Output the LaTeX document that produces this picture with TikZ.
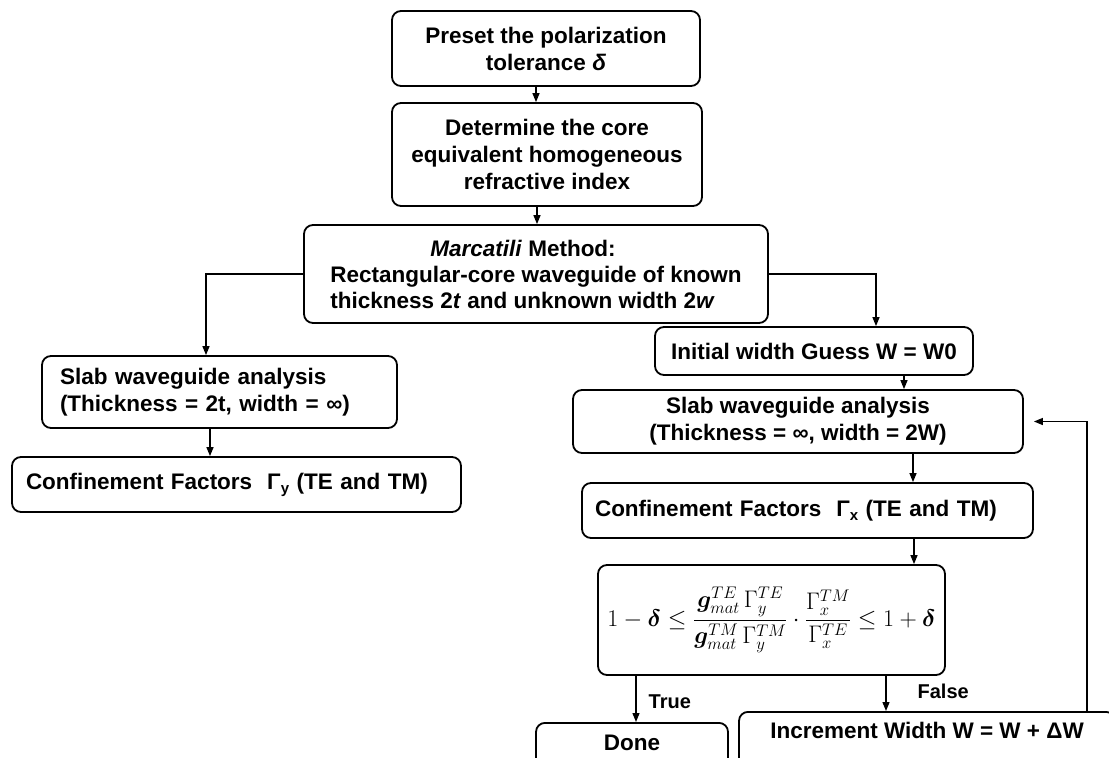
\documentclass[tikz,border=0pt]{standalone}
\usepackage{amsmath}
\usepackage{bm}
\usepackage{fix-cm}
\usepackage{fontspec}
\setmainfont{Liberation Sans}
\usetikzlibrary{arrows.meta,calc}
\begin{document}
\begin{tikzpicture}[x=1pt,y=-1pt,
  box/.style={draw, line width=1.8pt, rounded corners=9pt, inner sep=0pt, align=center,
    font=\fontsize{22.5}{27}\selectfont\bfseries},
  arr/.style={line width=1.3pt, -{Triangle[length=9pt,width=7pt]}},
  lbl/.style={font=\fontsize{20}{24}\selectfont\bfseries, inner sep=0pt, anchor=west}]
\useasboundingbox (0,0) rectangle (1109,758);
\fill[white] (0,0) rectangle (1109,758);

% boxes
\node[box, minimum width=308pt, minimum height=75pt] (b1) at (546,48.5)
  {Preset the polarization\\tolerance \textit{δ}};
\node[box, minimum width=310pt, minimum height=103pt] (b2) at (547,154.5)
  {Determine the core\\equivalent homogeneous\\refractive index};
\node[box, minimum width=464pt, minimum height=98pt, align=left, font=\fontsize{22.5}{26}\selectfont\bfseries] (b3) at (536,274)
  {\hspace*{100pt}\textit{Marcatili} Method:\\Rectangular-core waveguide of known\\thickness 2\textit{t} and unknown width 2\textit{w}};
\node[box, minimum width=318pt, minimum height=48pt] (gs) at (814,351)
  {Initial width Guess W = W0};
\node[box, minimum width=355pt, minimum height=72pt, align=left, text width=319pt, inner xsep=18pt] (sl) at (219.5,392)
  {Slab waveguide analysis\\(Thickness = 2t, width = ∞)};
\node[box, minimum width=449pt, minimum height=55pt, align=left, text width=421pt, inner xsep=14pt] (cl) at (236.5,484.5)
  {Confinement Factors\ \ Γ\raisebox{-0.35ex}{\fontsize{15}{15}\selectfont y} (TE and TM)};
\node[box, minimum width=450pt, minimum height=63pt] (sr) at (798,421.5)
  {Slab waveguide analysis\\(Thickness = ∞, width = 2W)};
\node[box, minimum width=451pt, minimum height=55pt, align=left, text width=425pt, inner xsep=13pt] (cr) at (807.5,510.5)
  {Confinement Factors\ \ Γ\raisebox{-0.35ex}{\fontsize{15}{15}\selectfont x} (TE and TM)};
\node[box, minimum width=347pt, minimum height=110pt, font=\fontsize{24}{28}\selectfont] (fm) at (771.5,620)
  {$\displaystyle 1-\bm{\delta}\le\frac{\bm{g}^{\mathnormal{TE}}_{\mathnormal{mat}}\,\Gamma^{\mathnormal{TE}}_{y}}{\bm{g}^{\mathnormal{TM}}_{\mathnormal{mat}}\,\Gamma^{\mathnormal{TM}}_{y}}\cdot\frac{\Gamma^{\mathnormal{TM}}_{x}}{\Gamma^{\mathnormal{TE}}_{x}}\le 1+\bm{\delta}$};
\node[box, anchor=north, minimum width=192pt, text height=17pt, text depth=30pt, inner ysep=11pt] (dn) at (632,722)
  {Done};
\node[box, anchor=north, minimum width=376pt, text height=17pt, text depth=30pt, inner ysep=10pt] (inc) at (927,711)
  {Increment Width W = W + ΔW};

% vertical guide coordinates
\coordinate (x1) at (536,0);
\coordinate (x2) at (537,0);
\coordinate (xl) at (206,0);
\coordinate (xr) at (876,0);
\coordinate (x3) at (904,0);
\coordinate (x4) at (913,0);
\coordinate (x5) at (914,0);
\coordinate (xt) at (636,0);
\coordinate (xf) at (886,0);
\coordinate (xb) at (1087,0);
\coordinate (xd) at (210,0);

% connectors
\draw[arr] (x1 |- b1.south) -- (x1 |- b2.north);
\draw[arr] (x2 |- b2.south) -- (x2 |- b3.north);
\draw[arr] (b3.west) -| (xl |- sl.north);
\draw[arr] (b3.east) -| (xr |- gs.north);
\draw[arr] (xd |- sl.south) -- (xd |- cl.north);
\draw[arr] (x3 |- gs.south) -- (x3 |- sr.north);
\draw[arr] (x4 |- sr.south) -- (x4 |- cr.north);
\draw[arr] (x5 |- cr.south) -- (x5 |- fm.north);
\draw[arr] (xt |- fm.south) -- node[lbl, pos=0.55, xshift=12pt] (tl) {True} (xt |- dn.north);
\draw[arr] (xf |- fm.south) -- node[lbl, pos=0.45, xshift=31pt] (fl) {False} (xf |- inc.north);
\draw[arr, shorten >=10pt] (xb |- inc.north) |- (sr.east);
\end{tikzpicture}
\end{document}
